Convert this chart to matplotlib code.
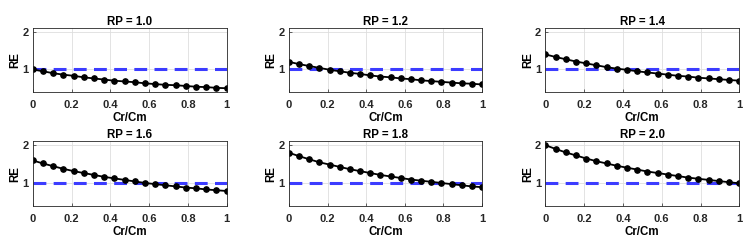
import numpy as np
import matplotlib.pyplot as plt

plt.rcParams['font.family'] = ['Liberation Sans', 'DejaVu Sans']
plt.rcParams['font.weight'] = 'bold'

# Cr/Cm positions (20 points)
cr_cm = [0, 0.053, 0.105, 0.158, 0.211, 0.263, 0.316, 0.368, 0.421, 0.474,
         0.526, 0.579, 0.632, 0.684, 0.737, 0.789, 0.842, 0.895, 0.947, 1.0]

rp_labels = ['1.0', '1.2', '1.4', '1.6', '1.8', '2.0']

re_10 = [1.00, 0.95, 0.90, 0.86, 0.83, 0.79, 0.76, 0.73, 0.70, 0.68,
         0.66, 0.63, 0.61, 0.59, 0.58, 0.56, 0.54, 0.53, 0.51, 0.50]
re_12 = [1.20, 1.14, 1.09, 1.04, 0.99, 0.95, 0.91, 0.88, 0.84, 0.81,
         0.79, 0.76, 0.74, 0.71, 0.69, 0.67, 0.65, 0.63, 0.62, 0.60]
re_14 = [1.40, 1.33, 1.27, 1.21, 1.16, 1.11, 1.06, 1.02, 0.99, 0.95,
         0.92, 0.89, 0.86, 0.83, 0.81, 0.78, 0.76, 0.74, 0.72, 0.70]
re_16 = [1.60, 1.52, 1.45, 1.38, 1.32, 1.27, 1.22, 1.17, 1.13, 1.09,
         1.05, 1.01, 0.98, 0.95, 0.92, 0.89, 0.87, 0.84, 0.82, 0.80]
re_18 = [1.80, 1.71, 1.63, 1.55, 1.49, 1.43, 1.37, 1.32, 1.27, 1.22,
         1.18, 1.14, 1.10, 1.07, 1.04, 1.01, 0.98, 0.95, 0.92, 0.90]
re_20 = [2.00, 1.90, 1.81, 1.73, 1.65, 1.58, 1.52, 1.46, 1.41, 1.36,
         1.31, 1.27, 1.23, 1.19, 1.15, 1.12, 1.09, 1.06, 1.03, 1.00]
re_series = [re_10, re_12, re_14, re_16, re_18, re_20]

W, H = 755, 248
fig = plt.figure(figsize=(W / 100, H / 100), dpi=100)

# axes boxes in pixels: left, right
cols = [(32.7, 226.7), (289, 482), (545.3, 739.3)]
rows = [(28, 92), (141.3, 206.3)]

for i, (lab, re) in enumerate(zip(rp_labels, re_series)):
    l, r = cols[i % 3]
    t, b = rows[i // 3]
    ax = fig.add_axes([l / W, 1 - b / H, (r - l) / W, (b - t) / H])
    ax.plot([0, 1], [1, 1], '--', color='#3c3cff', lw=2.2, dashes=(4.2, 2.4))
    ax.plot(cr_cm, re, '-o', color='black', lw=1.3, ms=3.8)
    ax.set_xlim(0, 1)
    ax.set_ylim(0.4, 2.1)
    ax.set_xticks([0, 0.2, 0.4, 0.6, 0.8, 1])
    ax.set_xticklabels(['0', '0.2', '0.4', '0.6', '0.8', '1'])
    ax.set_yticks([1, 2])
    ax.grid(True, color='#dedede', lw=0.6)
    ax.set_axisbelow(True)
    ax.tick_params(direction='in', labelsize=8, length=2, width=0.5,
                   colors='#262626')
    ax.tick_params(axis='x', pad=5.5)
    ax.tick_params(axis='y', pad=3)
    for s in ax.spines.values():
        s.set_linewidth(0.6)
        s.set_color('#262626')
    ax.set_title('RP = ' + lab, fontsize=8.3, fontweight='bold', pad=2.5)
    ax.set_xlabel('Cr/Cm', fontsize=8.3, fontweight='bold')
    ax.set_ylabel('RE', fontsize=8.3, fontweight='bold')
    ax.xaxis.set_label_coords(0.5, -0.4)
    ax.yaxis.set_label_coords(-0.09, 0.5)
    ax.xaxis.label.set_va('center')
    ax.yaxis.label.set_va('center')

fig.savefig('out.png', dpi=100)
